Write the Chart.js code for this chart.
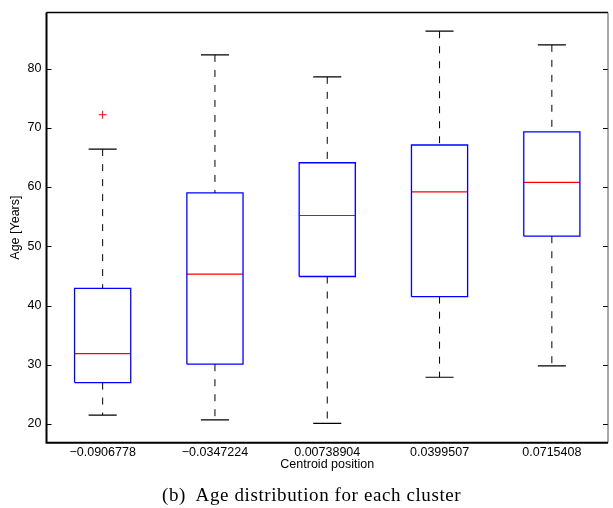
<!DOCTYPE html>
<html>
<head>
<meta charset="utf-8">
<script src="https://cdn.jsdelivr.net/npm/chart.js@4.4.1/dist/chart.umd.min.js"></script>
<style>
  html, body { margin: 0; padding: 0; background: #fff; }
  #wrap { position: relative; width: 613px; height: 508px; }
  #caption {
    position: absolute; left: 162px; top: 484px; line-height: 22px;
    font-family: "Liberation Serif", "Times New Roman", serif; font-size: 19px;
    letter-spacing: 0.6px; white-space: pre; color: #000;
  }
</style>
</head>
<body>
<div id="wrap">
  <canvas id="c" width="613" height="508"></canvas>
  <div id="caption">(b)  Age distribution for each cluster</div>
</div>
<script>
// ---- data ----
const categories = ['\u22120.0906778', '\u22120.0347224', '0.00738904', '0.0399507', '0.0715408'];
const whiskerLow  = [21.5, 20.7, 20.1, 27.9, 29.8];
const q1          = [27.0, 30.1, 44.9, 41.5, 51.7];
const medians     = [31.9, 45.3, 55.2, 59.2, 60.8];
const q3          = [42.9, 59.0, 64.1, 67.1, 69.3];
const whiskerHigh = [66.4, 82.3, 78.6, 86.3, 84.0];
const outlierCategory = [1];
const outlierValue    = [72.2];
const yTickValues = [20, 30, 40, 50, 60, 70, 80];

// ---- build datasets from the arrays ----
const BOX_HALF = 0.25, CAP_HALF = 0.125;
const gap = x => ({x: x, y: null});
const boxPts = [], medPts = [], whiskPts = [], capPts = [];
categories.forEach((c, i) => {
  const x = i + 1;
  boxPts.push({x: x - BOX_HALF, y: q1[i]}, {x: x + BOX_HALF, y: q1[i]},
              {x: x + BOX_HALF, y: q3[i]}, {x: x - BOX_HALF, y: q3[i]},
              {x: x - BOX_HALF, y: q1[i]}, gap(x));
  medPts.push({x: x - BOX_HALF, y: medians[i]}, {x: x + BOX_HALF, y: medians[i]}, gap(x));
  whiskPts.push({x: x, y: whiskerHigh[i]}, {x: x, y: q3[i]}, gap(x),
                {x: x, y: q1[i]}, {x: x, y: whiskerLow[i]}, gap(x));
  capPts.push({x: x - CAP_HALF, y: whiskerHigh[i]}, {x: x + CAP_HALF, y: whiskerHigh[i]}, gap(x),
              {x: x - CAP_HALF, y: whiskerLow[i]}, {x: x + CAP_HALF, y: whiskerLow[i]}, gap(x));
});
const outPts = outlierCategory.map((c, i) => ({x: c, y: outlierValue[i]}));

const FONT = '"Liberation Sans", Arial, Helvetica, sans-serif';

const framePlugin = {
  id: 'frame',
  afterDatasetsDraw(chart) {
    const {ctx, chartArea: a, scales: {y}} = chart;
    ctx.save();
    ctx.strokeStyle = '#000';
    ctx.lineWidth = 1;
    y.ticks.forEach(t => {
      const py = Math.round(y.getPixelForValue(t.value)) + 0.5;
      ctx.beginPath();
      ctx.moveTo(a.left, py); ctx.lineTo(a.left + 5, py);
      ctx.moveTo(a.right - 5, py); ctx.lineTo(a.right, py);
      ctx.stroke();
    });
    ctx.lineWidth = 1.3; ctx.strokeStyle = '#000';
    ctx.beginPath(); ctx.moveTo(a.left, a.top); ctx.lineTo(a.right, a.top); ctx.stroke();
    ctx.lineWidth = 1; ctx.strokeStyle = '#555';
    ctx.beginPath(); ctx.moveTo(a.right, a.top); ctx.lineTo(a.right, a.bottom); ctx.stroke();
    ctx.lineWidth = 2; ctx.strokeStyle = '#000';
    ctx.beginPath(); ctx.moveTo(a.left, a.top); ctx.lineTo(a.left, a.bottom); ctx.lineTo(a.right, a.bottom); ctx.stroke();
    ctx.restore();
  }
};

new Chart(document.getElementById('c'), {
  type: 'line',
  data: {
    datasets: [
      {label: 'whiskers', data: whiskPts, borderColor: '#000', borderWidth: 1, borderDash: [7, 8],
       pointRadius: 0, spanGaps: false, tension: 0, fill: false},
      {label: 'caps', data: capPts, borderColor: '#000', borderWidth: 1.2,
       pointRadius: 0, spanGaps: false, tension: 0, fill: false},
      {label: 'boxes', data: boxPts, borderColor: '#0000ff', borderWidth: 1.3,
       pointRadius: 0, spanGaps: false, tension: 0, fill: false},
      {label: 'medians', data: medPts, borderColor: '#ff0000', borderWidth: 1.2,
       pointRadius: 0, spanGaps: false, tension: 0, fill: false},
      {type: 'scatter', label: 'outliers', data: outPts, showLine: false,
       pointStyle: 'cross', pointRadius: 4, borderColor: '#ff0000', backgroundColor: '#ff0000', borderWidth: 1}
    ]
  },
  options: {
    responsive: false,
    animation: false,
    layout: {padding: {top: 11.5, right: 0.5, left: 0, bottom: 35.3}},
    plugins: {legend: {display: false}, tooltip: {enabled: false}},
    scales: {
      x: {
        type: 'linear', min: 0.5, max: 5.5,
        grid: {display: false, drawTicks: false}, border: {display: false},
        afterBuildTicks: s => { s.ticks = categories.map((c, i) => ({value: i + 1})); },
        afterFit: s => { s.height = 30; },
        ticks: {autoSkip: false, maxRotation: 0, padding: 2, color: '#000',
                font: {family: FONT, size: 12.5},
                callback: v => categories[Math.round(v) - 1]},
        title: {display: true, text: 'Centroid position', color: '#000',
                font: {family: FONT, size: 12.5}, padding: {top: 0, bottom: 1}}
      },
      y: {
        min: 16.85, max: 89.46,
        grid: {display: false, drawTicks: false}, border: {display: false},
        afterBuildTicks: s => { s.ticks = yTickValues.map(v => ({value: v})); },
        afterFit: s => { s.width = 46.5; },
        ticks: {padding: 5, color: '#000', font: {family: FONT, size: 12.5}},
        title: {display: true, text: 'Age [Years]', color: '#000',
                font: {family: FONT, size: 12.5}, padding: {top: 8, bottom: 0}}
      }
    }
  },
  plugins: [framePlugin]
});
</script>
</body>
</html>
